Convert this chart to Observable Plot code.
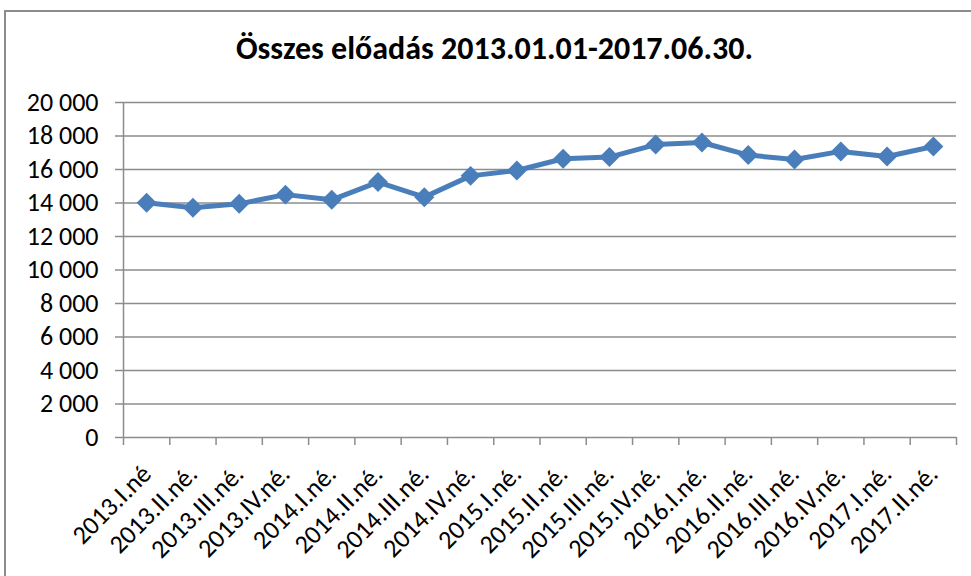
<!DOCTYPE html>
<html>
<head>
<meta charset="utf-8">
<script src="https://cdn.jsdelivr.net/npm/d3@7"></script>
<script src="https://cdn.jsdelivr.net/npm/@observablehq/plot@0.6"></script>
<style>
  html, body { margin: 0; padding: 0; background: #fff; }
  #wrap { position: relative; width: 971px; height: 576px; overflow: hidden; }
  #border { position: absolute; left: 4px; top: 10px; width: 980px; height: 600px;
            border-left: 2px solid #8c8c8c; border-top: 2px solid #8c8c8c; box-sizing: border-box; }
  #chart { position: absolute; left: 0; top: 0; }
</style>
</head>
<body>
<div id="wrap"><div id="border"></div><div id="chart"></div></div>
<script>
const title = "Összes előadás 2013.01.01-2017.06.30.";
const categories = ["2013.I.né","2013.II.né.","2013.III.né.","2013.IV.né.","2014.I.né.","2014.II.né.","2014.III.né.","2014.IV.né.","2015.I.né.","2015.II.né.","2015.III.né.","2015.IV.né.","2016.I.né.","2016.II.né.","2016.III.né.","2016.IV.né.","2017.I.né.","2017.II.né."];
const values = [14010, 13710, 13950, 14500, 14190, 15250, 14350, 15620, 15940, 16640, 16740, 17490, 17610, 16860, 16600, 17080, 16780, 17370];
const yTicks = [0, 2000, 4000, 6000, 8000, 10000, 12000, 14000, 16000, 18000, 20000];

const data = categories.map((c, i) => ({i: i + 0.5, cat: c, v: values[i]}));
const boundaries = d3.range(categories.length + 1);
const fmt = d => d3.format(",")(d).replace(/,/g, " ");
const font = "Carlito, Calibri, Lato, sans-serif";

const chart = Plot.plot({
  width: 971,
  height: 576,
  marginLeft: 123,
  marginRight: 15,
  marginTop: 102,
  marginBottom: 139,
  style: {fontFamily: font, background: "transparent", overflow: "visible"},
  x: {domain: [0, categories.length], axis: null},
  y: {domain: [0, 20000], axis: null},
  marks: [
    Plot.ruleY(yTicks, {stroke: "#8c8c8c", strokeWidth: 1.5}),
    Plot.axisY(yTicks, {tickSize: 8, stroke: "#8c8c8c", strokeWidth: 1.5, tickPadding: 17, tickFormat: fmt, fontSize: 26, fill: "#000", label: null}),
    Plot.axisX(boundaries, {anchor: "bottom", tickSize: 8, stroke: "#8c8c8c", strokeWidth: 1.5, tickFormat: () => "", label: null}),
    Plot.ruleX([0], {stroke: "#8c8c8c", strokeWidth: 1.5}),
    Plot.text(data, {x: "i", text: "cat", frameAnchor: "bottom", rotate: -45, textAnchor: "end", lineAnchor: "bottom", dx: 6, dy: 38, fontSize: 26, fill: "#000"}),
    Plot.line(data, {x: "i", y: "v", stroke: "#4a7ebb", strokeWidth: 5}),
    Plot.dot(data, {x: "i", y: "v", symbol: "diamond2", r: 9, fill: "#4a7ebb", stroke: "none"}),
    Plot.text([title], {frameAnchor: "top-left", textAnchor: "middle", lineAnchor: "bottom", dx: 371, dy: -44, fontSize: 32, fontWeight: "bold", fill: "#000"})
  ]
});
document.getElementById("chart").appendChild(chart);
</script>
</body>
</html>
